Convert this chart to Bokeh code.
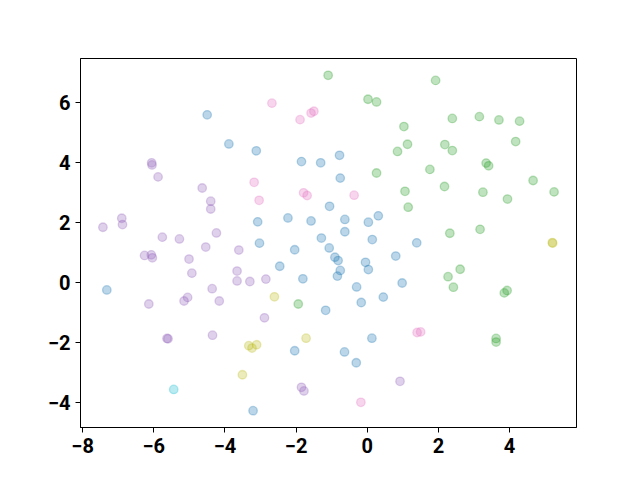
from bokeh.plotting import figure
from bokeh.embed import file_html
from bokeh.resources import INLINE
from bokeh.models import Range1d, FixedTicker

blue_x = [-4.50, -3.89, -3.12, -1.85, -1.31, -0.78, -0.76, -1.06, -2.23, -3.08, -1.58, -0.63, 0.03, 0.31,
          -0.63, -1.29, 0.14, 1.39, -3.03, -2.04, -1.07, -0.91, -0.82, 0.80, -0.05, 0.03, -0.76, -0.84,
          -2.46, -1.81, -0.30, 0.98, 0.45, -0.17, -1.17, 0.13, -2.04, -0.64, -0.31, -3.21, -7.32]
blue_y = [5.58, 4.61, 4.38, 4.02, 3.98, 4.23, 3.47, 2.53, 2.14, 2.01, 2.04, 2.09, 2.00, 2.21,
          1.68, 1.47, 1.42, 1.31, 1.30, 1.08, 1.14, 0.83, 0.72, 0.87, 0.66, 0.42, 0.39, 0.20,
          0.53, 0.11, -0.16, -0.03, -0.50, -0.68, -0.94, -1.87, -2.29, -2.33, -2.69, -4.29, -0.26]

green_x = [-1.10, 1.92, 0.02, 0.26, 1.03, 2.39, 3.15, 3.70, 4.28, 1.13, 0.85, 2.18, 2.39, 4.17,
           3.34, 3.41, 0.26, 1.76, 4.66, 2.17, 1.06, 3.25, 3.94, 5.25, 1.15, 2.32, 3.17, 2.61,
           2.27, 2.42, 3.85, 3.93, 3.62, 3.62, -1.94]
green_y = [6.90, 6.73, 6.10, 6.01, 5.19, 5.46, 5.52, 5.41, 5.37, 4.60, 4.36, 4.59, 4.39, 4.69,
           3.97, 3.88, 3.64, 3.76, 3.39, 3.19, 3.03, 3.00, 2.77, 3.01, 2.50, 1.63, 1.76, 0.43,
           0.18, -0.17, -0.36, -0.28, -1.88, -2.00, -0.73]

purple_x = [-6.06, -6.05, -5.88, -4.64, -4.40, -4.40, -6.90, -6.88, -7.43, -5.76, -5.28, -4.24,
            -4.54, -3.61, -6.26, -6.07, -6.04, -5.01, -4.93, -3.66, -3.66, -3.30, -2.85, -4.36,
            -5.05, -5.15, -4.16, -6.14, -2.89, -4.35, -5.63, -5.60, -1.85, -1.78, 0.92]
purple_y = [3.98, 3.91, 3.51, 3.14, 2.70, 2.44, 2.13, 1.92, 1.83, 1.50, 1.44, 1.64,
            1.17, 1.07, 0.89, 0.91, 0.81, 0.77, 0.30, 0.37, 0.04, 0.02, 0.10, -0.22,
            -0.51, -0.63, -0.63, -0.73, -1.19, -1.77, -1.88, -1.89, -3.51, -3.63, -3.31]

pink_x = [-2.68, -1.89, -1.58, -1.50, -3.18, -3.04, -1.79, -1.69, -0.37, 1.40, 1.50, -0.18]
pink_y = [5.97, 5.42, 5.64, 5.70, 3.33, 2.73, 2.98, 2.89, 2.90, -1.68, -1.66, -4.01]

olive_x = [-2.61, -1.72, -3.33, -3.24, -3.11, -3.51, 5.20, 5.21]
olive_y = [-0.49, -1.87, -2.12, -2.20, -2.09, -3.09, 1.32, 1.30]

cyan_x = [-5.44]
cyan_y = [-3.58]

x_ticks = [-8, -6, -4, -2, 0, 2, 4]
y_ticks = [-4, -2, 0, 2, 4, 6]

p = figure(output_backend="svg", toolbar_location=None,
           frame_width=496, frame_height=369,
           min_border_left=80, min_border_top=58, min_border_right=40, min_border_bottom=40,
           x_range=Range1d(-8.06, 5.88), y_range=Range1d(-4.85, 7.46))
p.background_fill_color = "white"
p.border_fill_color = "white"
p.grid.visible = False
p.outline_line_color = "black"
p.outline_line_width = 1

series = [
    (blue_x, blue_y, "#1f77b4"),
    (green_x, green_y, "#2ca02c"),
    (purple_x, purple_y, "#9467bd"),
    (pink_x, pink_y, "#e377c2"),
    (olive_x, olive_y, "#bcbd22"),
    (cyan_x, cyan_y, "#17becf"),
]
for xs, ys, c in series:
    p.scatter(xs, ys, size=8.5, fill_color=c, fill_alpha=0.3, line_color=c, line_alpha=0.3, line_width=1.3)

p.xaxis.ticker = FixedTicker(ticks=x_ticks)
p.yaxis.ticker = FixedTicker(ticks=y_ticks)
for ax in (p.xaxis[0], p.yaxis[0]):
    ax.major_label_text_font = "Roboto"
    ax.major_label_text_font_style = "bold"
    ax.major_label_text_font_size = "20px"
    ax.major_label_text_color = "black"
    ax.axis_line_color = "black"
    ax.major_tick_line_color = "black"
    ax.major_tick_out = 5
    ax.major_tick_in = 0
    ax.minor_tick_line_color = None
p.yaxis.major_label_orientation = "horizontal"

open("out.html", "w").write(file_html(p, INLINE))
